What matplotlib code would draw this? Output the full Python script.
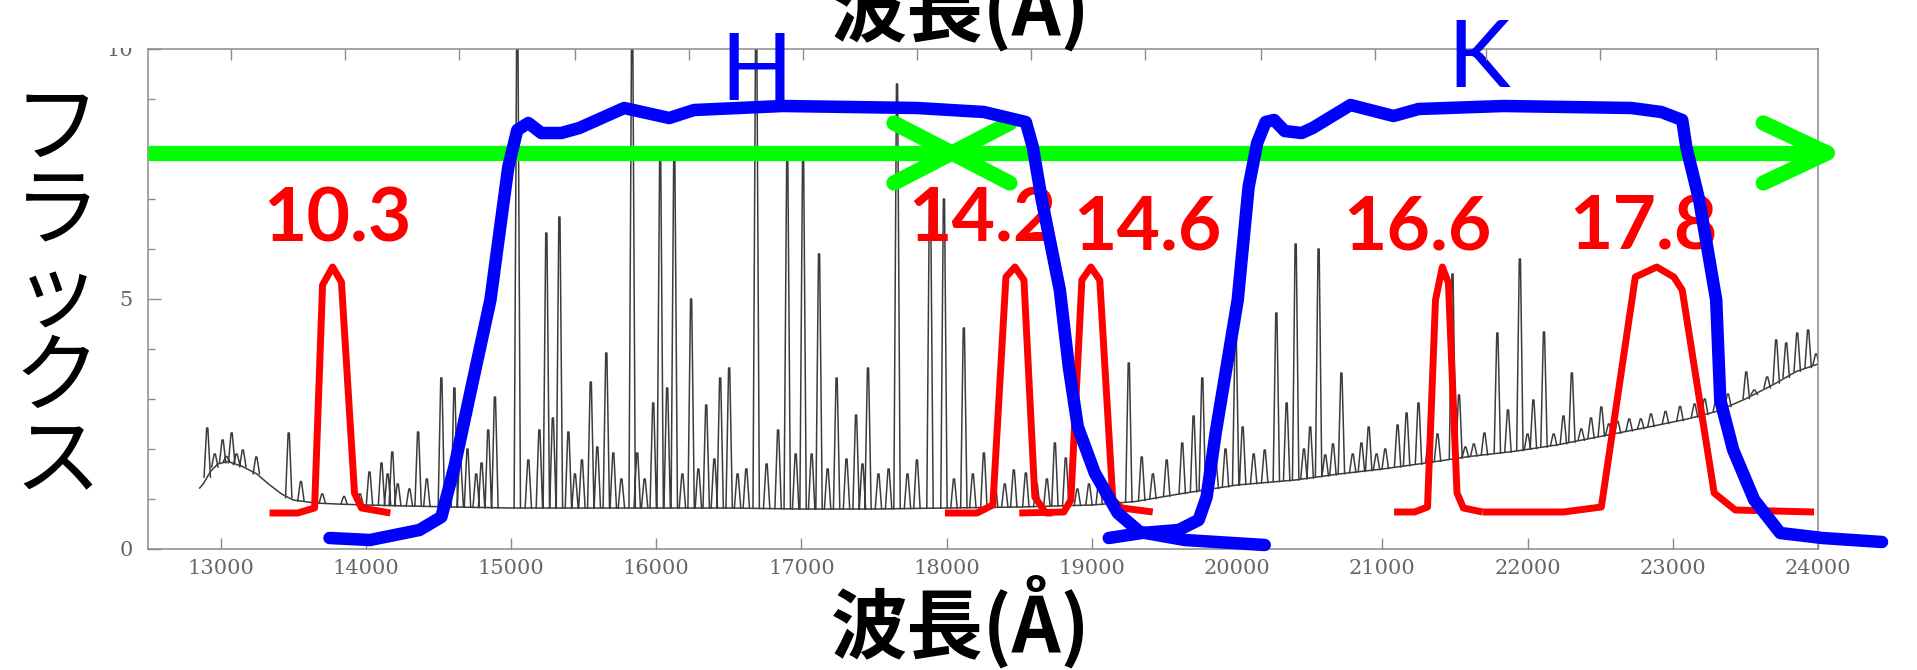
import numpy as np
import matplotlib
matplotlib.use("Agg")
import matplotlib.pyplot as plt
from matplotlib.patches import Rectangle

plt.rcParams['font.family'] = ['Noto Sans CJK JP', 'DejaVu Sans']

# sky spectrum: continuum (wavelength A, flux)
cont_wave = [12856, 12880, 12930, 12980, 13050, 13150, 13250, 13330, 13420, 13500, 13650, 13800,
             14000, 14300, 14600, 15000, 15500, 16000, 16500, 17000, 17500, 18000, 18500, 19000,
             19300, 19600, 20000, 20400, 20700, 21000, 21300, 21600, 21900, 22200, 22500, 22800,
             23100, 23300, 23500, 23700, 23850, 24000]
cont_flux = [1.22, 1.3, 1.55, 1.7, 1.75, 1.65, 1.5, 1.3, 1.1, 0.98, 0.92, 0.9,
             0.88, 0.86, 0.84, 0.82, 0.82, 0.82, 0.82, 0.8, 0.8, 0.82, 0.84, 0.88,
             0.95, 1.1, 1.28, 1.38, 1.5, 1.6, 1.72, 1.85, 1.95, 2.08, 2.25, 2.42,
             2.6, 2.75, 3.0, 3.3, 3.55, 3.7]

# emission lines: centre (A) and peak flux
line_wave = [12908, 12960, 13014, 13040, 13076, 13110, 13153, 13246, 13469, 13553, 13700, 13850,
             13960, 14025, 14108, 14150, 14182, 14220, 14300, 14360, 14420, 14520, 14610, 14650,
             14700, 14760, 14797, 14843, 14889, 15043, 15119, 15195, 15243, 15288, 15333, 15395,
             15440, 15488, 15549, 15594, 15656, 15704, 15760, 15834, 15869, 15920, 15979, 16027,
             16075, 16124, 16180, 16240, 16290, 16344, 16400, 16440, 16502, 16560, 16620, 16688,
             16760, 16839, 16902, 16960, 17011, 17070, 17121, 17180, 17242, 17310, 17376, 17420,
             17458, 17530, 17600, 17658, 17730, 17795, 17885, 17981, 18050, 18118, 18180, 18256,
             18330, 18400, 18462, 18545, 18620, 18690, 18745, 18820, 18900, 18980, 19050, 19130,
             19254, 19343, 19420, 19515, 19622, 19700, 19760, 19850, 19920, 19990, 20038, 20114,
             20190, 20270, 20341, 20403, 20460, 20503, 20561, 20607, 20660, 20718, 20796, 20856,
             20906, 20960, 21020, 21105, 21167, 21249, 21320, 21380, 21483, 21528, 21572, 21630,
             21703, 21792, 21865, 21947, 22000, 22040, 22113, 22180, 22247, 22305, 22370, 22437,
             22508, 22560, 22620, 22700, 22780, 22850, 22950, 23050, 23150, 23220, 23300, 23380,
             23506, 23561, 23650, 23712, 23781, 23857, 23932, 23987]
line_peak = [2.42, 1.9, 2.18, 1.85, 2.32, 1.9, 1.98, 1.84, 2.32, 1.35, 1.1, 1.05,
             1.1, 1.54, 1.72, 1.5, 1.94, 1.3, 1.2, 2.34, 1.4, 3.42, 3.22, 1.8,
             2.0, 1.5, 1.72, 2.38, 3.04, 10.5, 1.78, 2.38, 6.32, 2.62, 6.64, 2.34,
             1.5, 1.78, 3.34, 2.04, 3.92, 1.92, 1.4, 10.5, 1.92, 1.4, 2.92, 7.78,
             3.22, 7.85, 1.5, 5.0, 1.6, 2.88, 1.8, 3.42, 3.62, 1.5, 1.6, 10.5,
             1.7, 2.38, 7.8, 1.9, 7.8, 1.9, 5.9, 1.6, 3.42, 1.8, 2.68, 1.7,
             3.62, 1.5, 1.6, 9.3, 1.5, 1.78, 7.2, 7.0, 1.4, 4.42, 1.5, 1.92,
             1.4, 1.3, 1.58, 1.52, 1.3, 1.4, 2.12, 1.82, 1.2, 1.3, 1.4, 1.3,
             3.72, 1.84, 1.5, 1.78, 2.12, 2.66, 3.42, 1.8, 2.0, 4.32, 2.44, 1.9,
             1.98, 4.72, 2.92, 6.1, 2.0, 2.44, 6.0, 1.88, 2.1, 3.52, 1.9, 2.12,
             2.44, 1.9, 2.0, 2.48, 2.72, 2.92, 2.2, 2.3, 5.5, 3.08, 2.04, 2.1,
             2.32, 4.32, 2.78, 5.8, 2.3, 2.98, 4.34, 2.3, 2.66, 3.52, 2.4, 2.62,
             2.84, 2.5, 2.55, 2.6, 2.6, 2.7, 2.75, 2.85, 2.9, 3.0, 3.0, 3.1,
             3.54, 3.18, 3.44, 4.18, 4.12, 4.32, 4.38, 3.9]

# H and K band transmission (drawn in flux units)
h_wave = [13750, 14029, 14369, 14520, 14610, 14734, 14858, 14981, 15043, 15119, 15208, 15346,
          15470, 15779, 16089, 16261, 16873, 17795, 18256, 18545, 18593, 18655, 18779, 18841,
          18903, 19020, 19178, 19330, 19639, 20190]
h_trans = [0.22, 0.18, 0.38, 0.64, 1.64, 3.32, 4.98, 7.64, 8.38, 8.52, 8.32, 8.32,
           8.42, 8.82, 8.62, 8.78, 8.86, 8.82, 8.74, 8.54, 8.04, 6.98, 5.18, 3.64,
           2.44, 1.52, 0.72, 0.34, 0.18, 0.08]
k_wave = [19116, 19343, 19598, 19735, 19790, 19852, 20004, 20079, 20138, 20196, 20255, 20327,
          20444, 20520, 20781, 21077, 21249, 21834, 22714, 22921, 23065, 23093, 23182, 23299,
          23327, 23416, 23561, 23740, 24029, 24441]
k_trans = [0.22, 0.32, 0.38, 0.58, 1.04, 2.32, 4.98, 7.24, 8.12, 8.54, 8.58, 8.36,
           8.32, 8.42, 8.88, 8.66, 8.8, 8.86, 8.82, 8.74, 8.58, 8.04, 6.98, 4.98,
           2.98, 1.98, 0.98, 0.32, 0.22, 0.14]

# narrow-band filters
f103_wave = [13337, 13530, 13647, 13702, 13771, 13832, 13922, 13970, 14169]
f103_trans = [0.72, 0.72, 0.82, 5.28, 5.64, 5.34, 1.12, 0.82, 0.72]
f142_wave = [17988, 18208, 18318, 18408, 18470, 18532, 18607, 18683, 18730]
f142_trans = [0.72, 0.72, 0.88, 5.44, 5.64, 5.38, 1.04, 0.72, 0.72]
f146_wave = [18500, 18807, 18855, 18931, 18993, 19054, 19144, 19206, 19419]
f146_trans = [0.72, 0.74, 0.98, 5.38, 5.64, 5.38, 0.98, 0.82, 0.74]
f166_wave = [21081, 21222, 21311, 21366, 21413, 21455, 21514, 21558, 21689]
f166_trans = [0.74, 0.74, 0.84, 4.98, 5.64, 5.32, 1.12, 0.82, 0.74]
f178_wave = [21689, 22247, 22508, 22742, 22890, 23007, 23065, 23285, 23430, 23973]
f178_trans = [0.74, 0.74, 0.84, 5.44, 5.64, 5.44, 5.18, 1.12, 0.78, 0.74]

filter_names = ['10.3', '14.2', '14.6', '16.6', '17.8']
filter_waves = [f103_wave, f142_wave, f146_wave, f166_wave, f178_wave]
filter_trans = [f103_trans, f142_trans, f146_trans, f166_trans, f178_trans]
label_x = [13805, 18243, 19385, 21242, 22797]
label_y = [6.14, 6.14, 6.0, 5.98, 5.98]

x_ticks = list(range(13000, 24001, 1000))
top_ticks = [13069, 13860, 14644, 15442, 16227, 17011, 17795, 18580, 19364, 20162, 20946, 21717,
             22501, 23299]

W, H = 1917, 670
fig = plt.figure(figsize=(W / 100, H / 100), dpi=100)
ax = fig.add_axes([148 / W, 1 - 549 / H, (1818 - 148) / W, 500 / H])
ax.set_xlim(12500, 24000)
ax.set_ylim(0, 10)

# spectrum
spec_col = '#3c3c3c'
ax.plot(cont_wave, cont_flux, color=spec_col, lw=1.1, zorder=1)
hw = 22
lw_arr = np.array(line_wave, dtype=float)
base = np.interp(lw_arr, cont_wave, cont_flux)
nan = np.full_like(lw_arr, np.nan)
xs = np.column_stack([lw_arr - hw, lw_arr - 4, lw_arr + 4, lw_arr + hw, nan]).ravel()
ys = np.column_stack([base, line_peak, line_peak, base, nan]).ravel()
ax.plot(xs, ys, color=spec_col, lw=1.1, zorder=1)

# filters
for fw, ft in zip(filter_waves, filter_trans):
    ax.plot(fw, ft, color='#ff0000', lw=5, solid_capstyle='butt', zorder=2)
for name, lx, ly in zip(filter_names, label_x, label_y):
    ax.text(lx, ly, name, color='#ff0000', fontsize=54, fontweight='bold', family=['Lato', 'DejaVu Sans'],
            ha='center', va='baseline', zorder=3)

# green arrows
gy = 7.92
green = dict(color='#00ff00', lw=11, solid_capstyle='round', clip_on=False, zorder=4)
ax.plot([12500, 24063], [gy, gy], **dict(green, solid_capstyle='butt'))
mid = 18036
for sgn, tip, dx in [(-1, mid, 399), (1, mid, 399), (-1, 24063, 440)]:
    for dy in (0.6, -0.6):
        ax.plot([tip, tip + sgn * dx], [gy, gy + dy], **green)

# H and K
ax.plot(h_wave, h_trans, color='#0000ff', lw=9, solid_capstyle='round', clip_on=False, zorder=5)
ax.plot(k_wave, k_trans, color='#0000ff', lw=9, solid_capstyle='round', clip_on=False, zorder=5)
ax.text(16688, 8.98, 'H', color='#0000ff', fontsize=68, family=['Lato', 'DejaVu Sans'],
        ha='center', va='baseline', zorder=5, clip_on=False)
ax.text(21662, 9.24, 'K', color='#0000ff', fontsize=68, family=['Lato', 'DejaVu Sans'],
        ha='center', va='baseline', zorder=5, clip_on=False)

# axes styling
for s in ['left', 'bottom', 'top', 'right']:
    ax.spines[s].set_color('#8a8a8a')
    ax.spines[s].set_linewidth(1.1)
ax.set_xticks(x_ticks)
ax.set_yticks([0, 5, 10])
ax.set_yticks(range(0, 11), minor=True)
ax.tick_params(axis='x', which='major', direction='in', length=8, width=1, color='#8a8a8a',
               labelsize=15, labelcolor='#666666', pad=7)
ax.tick_params(axis='y', which='major', direction='in', length=9, width=1, color='#8a8a8a',
               labelsize=15, labelcolor='#666666', pad=11)
ax.tick_params(axis='y', which='minor', direction='in', length=5, width=1, color='#8a8a8a')
for t in ax.get_xticklabels() + ax.get_yticklabels():
    t.set_family(['DejaVu Serif'])

ax2 = ax.twiny()
ax2.set_xlim(ax.get_xlim())
ax2.set_xticks(top_ticks)
ax2.set_xticklabels([])
ax2.tick_params(axis='x', direction='in', length=8, width=1, color='#8a8a8a')
for s in ax2.spines.values():
    s.set_visible(False)

# cropped top of the original picture
fig.patches.append(Rectangle((0, 1 - 48 / H), 147 / W, 48 / H, transform=fig.transFigure,
                             facecolor='white', edgecolor='none', zorder=10))

# axis titles
ylab = 'フラックス'
for i, ch in enumerate(ylab):
    fig.text(57 / W, 1 - (131 + i * 83) / H, ch, fontsize=62, ha='center', va='center')
fig.text(961 / W, 1 - 622 / H, '波長(Å)', fontsize=55, fontweight='bold', ha='center', va='center')
fig.text(961 / W, 1 - 5 / H, '波長(Å)', fontsize=55, fontweight='bold', ha='center', va='center')

fig.savefig('out.png', dpi=100)
